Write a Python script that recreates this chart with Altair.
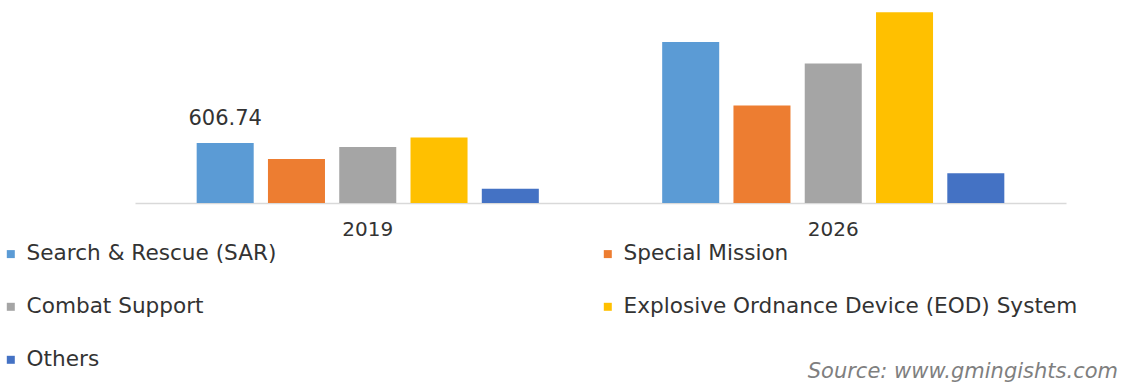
import altair as alt
import pandas as pd

years = ["2019", "2026"]
segments = [
    "Search & Rescue (SAR)",
    "Special Mission",
    "Combat Support",
    "Explosive Ordnance Device (EOD) System",
    "Others",
]
colors = ["#5B9BD5", "#ED7D31", "#A5A5A5", "#FFC000", "#4472C4"]
values_2019 = [606.74, 445, 566, 663, 145]
values_2026 = [1628, 985, 1410, 1928, 300]
labels_2019 = ["606.74", "", "", "", ""]
labels_2026 = ["", "", "", "", ""]
# legend is laid out column by column, so list it in that order
legend_order = [0, 2, 4, 1, 3]

rows = []
for seg, v, lab in zip(segments, values_2019, labels_2019):
    rows.append({"year": "2019", "segment": seg, "value": v, "label": lab})
for seg, v, lab in zip(segments, values_2026, labels_2026):
    rows.append({"year": "2026", "segment": seg, "value": v, "label": lab})
df = pd.DataFrame(rows)

FONT = "DejaVu Sans"
TXT = "#333333"

x_enc = alt.X(
    "year:N",
    sort=years,
    scale=alt.Scale(paddingInner=0.265, paddingOuter=0.1325),
    axis=alt.Axis(
        title=None,
        labelAngle=0,
        ticks=False,
        domainColor="#d9d9d9",
        domainWidth=1.5,
        labelFontSize=20,
        labelFont=FONT,
        labelColor=TXT,
        labelPadding=16,
    ),
)
xoff_enc = alt.XOffset(
    "segment:N", sort=segments, scale=alt.Scale(paddingInner=0.2, paddingOuter=0)
)
y_enc = alt.Y(
    "value:Q",
    scale=alt.Scale(domain=[0, 2052], nice=False),
    axis=None,
)

bars = alt.Chart(df).mark_bar().encode(
    x=x_enc,
    xOffset=xoff_enc,
    y=y_enc,
    color=alt.Color(
        "segment:N",
        scale=alt.Scale(
            domain=[segments[i] for i in legend_order],
            range=[colors[i] for i in legend_order],
        ),
        legend=alt.Legend(
            title=None,
            orient="none",
            legendX=-135,
            legendY=243,
            columns=2,
            columnPadding=320,
            rowPadding=30,
            symbolType="square",
            symbolSize=64,
            symbolStrokeWidth=0,
            labelFontSize=21.6,
            labelFont=FONT,
            labelColor=TXT,
            labelOffset=5,
            labelLimit=600,
            padding=0,
        ),
    ),
)

text = (
    alt.Chart(df)
    .transform_filter(alt.datum.label != "")
    .mark_text(baseline="alphabetic", dy=-18, fontSize=21, font=FONT, color=TXT)
    .encode(x=x_enc, xOffset=xoff_enc, y=y_enc, text="label:N")
)

source = (
    alt.Chart(pd.DataFrame({"t": ["Source: www.gmingishts.com"]}))
    .mark_text(
        align="right",
        baseline="alphabetic",
        fontSize=21,
        font=FONT,
        fontStyle="italic",
        color="#7f7f7f",
    )
    .encode(x=alt.value(983), y=alt.value(378), text="t:N")
)

chart = (
    alt.layer(bars, text, source)
    .properties(
        width=931,
        height=203,
        autosize=alt.AutoSizeParams(type="none"),
        padding={"left": 135, "top": 0, "right": 66, "bottom": 188},
        background="white",
    )
    .configure_view(stroke=None)
)

chart.save("out.html", embed_options={"renderer": "svg", "actions": False})
